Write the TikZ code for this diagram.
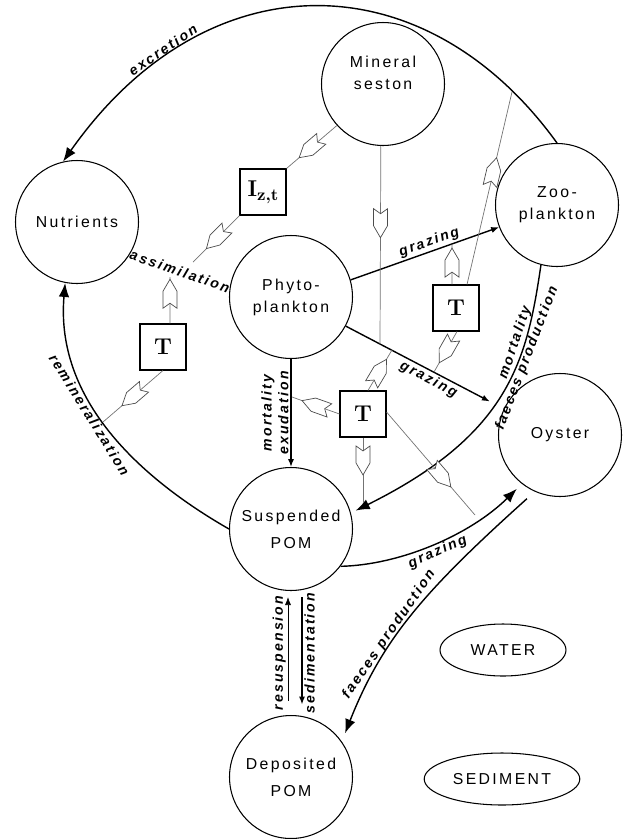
\documentclass[tikz,border=0pt]{standalone}
\usepackage{fontspec}
\newfontfamily\poolfont[LetterSpace=15]{Liberation Sans}
\usetikzlibrary{shapes, arrows.meta, positioning}
\tikzstyle{pool} = [circle, draw, semithick, minimum size=2.46cm, inner sep=0pt, align=center, font=\poolfont\fontsize{9}{12.5}\selectfont]
\tikzstyle{ctrl} = [rectangle, draw, semithick, fill=white, minimum size=0.92cm, inner sep=0pt, font=\bfseries\fontsize{13}{15}\selectfont]
\tikzstyle{layer} = [ellipse, draw, semithick, minimum width=2.52cm, minimum height=1.04cm, font=\poolfont\fontsize{9}{11}\selectfont]
\tikzstyle{flow} = [draw, thick, -{Latex[length=4.5pt, width=3.5pt]}]
\tikzstyle{bigflow} = [draw, thick, -{Latex[length=8pt, width=6pt]}]
\tikzstyle{info} = [draw, black!55, thin]
\tikzstyle{lab} = [font=\poolfont\bfseries\itshape\fontsize{8}{9.5}\selectfont, inner sep=1pt]
\tikzset{valve/.pic={\draw[black!70, thin, fill=white] (-14.5,-7) -- (2.5,-7) -- (14.5,0) -- (2.5,7) -- (-14.5,7) -- (-9.5,0) -- cycle;}}

\begin{document}
\begin{tikzpicture}[x=0.02cm, y=0.02cm]
    \useasboundingbox (0,0) rectangle (625,-839);

    \node[pool] (nut) at (77,-222) {Nutrients};
    \node[pool] (mins) at (383,-84) {Mineral\\seston\\\mbox{}};
    \node[pool] (zoo) at (557,-205) {Zoo-\\plankton};
    \node[pool] (phy) at (291,-297) {Phyto-\\plankton};
    \node[pool] (oys) at (560,-435) {Oyster};
    \node[pool] (spom) at (291,-529) {Suspended\\[3pt]POM};
    \node[pool] (dpom) at (291,-777) {Deposited\\[3pt]POM};
    \node[layer] (water) at (503,-650) {WATER};
    \node[layer] (sed) at (502,-779) {SEDIMENT};

    \node[ctrl] (iz) at (263,-192) {I\raisebox{-2.5pt}{\fontsize{9.5}{10}\selectfont z,t}};
    \node[ctrl] (tl) at (163,-347) {T};
    \node[ctrl] (tc) at (363,-414) {T};
    \node[ctrl] (tr) at (456,-308) {T};

    % material flows
    \path[bigflow] (zoo.north) .. controls (425,40) and (207,43) .. node[lab, pos=0.78, sloped, above] {excretion} (nut.103);
    \path[bigflow] (spom.west) .. controls (140,-478) and (55,-400) .. node[lab, pos=0.58, sloped, below] {remineralization} (nut.259);
    \path (nut) -- node[lab, sloped, below=3pt] {assimilation} (phy);
    \path[flow] (phy.16) -- node[lab, pos=0.55, sloped, above] {grazing} (zoo.201);
    \path[flow, shorten >=9pt] (phy.-28) -- node[lab, pos=0.55, sloped, below] {grazing} (oys.155);
    \path[flow] (phy.south) -- node[lab, rotate=90, anchor=south, align=center] {mortality\\exudation} (spom.north);
    \path[bigflow, shorten >=3pt] (zoo.255) .. controls (527,-360) and (510,-434) .. node[lab, pos=0.3, sloped, above] {mortality} node[lab, pos=0.34, sloped, below=-1pt] {faeces production} (spom.15);
    \path[bigflow, shorten >=4pt] (spom.-37) .. controls (400,-565) and (470,-535) .. node[lab, pos=0.5, sloped, below] {grazing} (oys.232);
    \path[bigflow, shorten <=6pt, shorten >=5pt] (oys.246) .. controls (423,-592) and (382,-640) .. node[lab, pos=0.6, sloped, above=-1pt] {faeces production} (dpom.35);
    \path[flow, thin, shorten <=8pt, shorten >=3.5pt] ([xshift=-0.06cm]dpom.north) -- node[lab, rotate=90, anchor=south] {resuspension} ([xshift=-0.06cm]spom.south);
    \path[flow, shorten <=3.5pt, shorten >=6pt] ([xshift=0.22cm]spom.south) -- node[lab, rotate=90, anchor=north] {sedimentation} ([xshift=0.22cm]dpom.north);

    % ends of the information lines
    \coordinate (asmi) at (193,-262);
    \coordinate (asmt) at (170,-277);
    \coordinate (remi) at (103,-422);
    \coordinate (mortx) at (292,-397);
    \coordinate (mortz) at (363,-503);
    \coordinate (grzo) at (392,-350);
    \coordinate (grzs) at (475,-515);
    \coordinate (grzz) at (452,-244);
    \coordinate (grzo2) at (434,-372);
    \coordinate (grzm) at (380,-344);
    \coordinate (excr) at (512,-92);

    % information lines
    \draw[info] (mins.222) -- pic[pos=0.53, sloped, allow upside down] {valve} (iz.north east);
    \draw[info] (iz.south west) -- pic[pos=0.49, sloped, allow upside down] {valve} (asmi);
    \draw[info] (mins.268) -- pic[pos=0.39, sloped, allow upside down] {valve} (grzm);
    \draw[info] ([xshift=0.14cm]tl.north) -- pic[pos=0.64, sloped, allow upside down] {valve} (asmt);
    \draw[info] (tl.south) -- pic[pos=0.5, sloped, allow upside down] {valve} (remi);
    \draw[info] (tc.west) -- pic[pos=0.5, sloped, allow upside down] {valve} (mortx);
    \draw[info] (tc.south) -- pic[pos=0.35, sloped, allow upside down] {valve} (mortz);
    \draw[info] ([xshift=0.1cm]tc.north) -- pic[pos=0.46, sloped, allow upside down] {valve} (grzo);
    \draw[info] ([yshift=0.04cm]tc.east) -- pic[pos=0.62, sloped, allow upside down] {valve} (grzs);
    \draw[info] ([xshift=-0.08cm]tr.north) -- pic[pos=0.54, sloped, allow upside down] {valve} (grzz);
    \draw[info] ([xshift=0.02cm]tr.south) -- pic[pos=0.46, sloped, allow upside down] {valve} (grzo2);
    \draw[info] ([xshift=0.22cm]tr.north) -- pic[pos=0.585, sloped, allow upside down] {valve} (excr);
\end{tikzpicture}
\end{document}
